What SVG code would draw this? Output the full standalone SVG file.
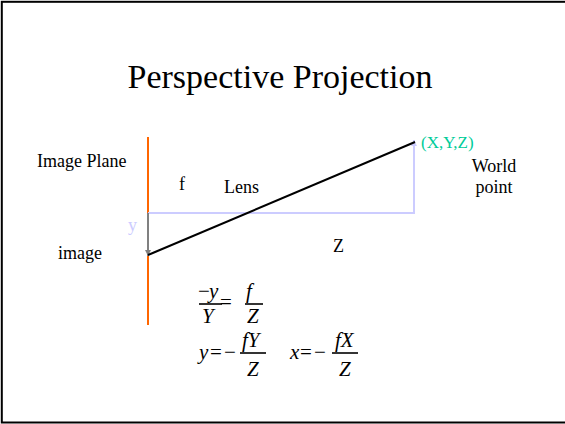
<svg xmlns="http://www.w3.org/2000/svg" width="565" height="424" viewBox="0 0 565 424">
<style>
text{font-family:"Liberation Serif","Times New Roman",serif;fill:#000}
.lbl{font-size:18px}
.eq{font-size:21px;font-style:italic}
.op{font-size:21px;font-style:normal}
.bar{stroke:#000;stroke-width:1.6}
</style>
<defs>
<marker id="ahGray" markerWidth="8" markerHeight="8" refX="6" refY="3" orient="auto" markerUnits="userSpaceOnUse">
<path d="M0,0 L6,3 L0,6 Z" fill="#808080"/>
</marker>
<marker id="ahLav" markerWidth="8" markerHeight="8" refX="6" refY="3" orient="auto" markerUnits="userSpaceOnUse">
<path d="M0,0 L6,3 L0,6 Z" fill="#CCCCFF"/>
</marker>
</defs>
<rect x="1.8" y="1.8" width="575" height="420.7" fill="#fff" stroke="#000" stroke-width="2"/>
<g id="title"><text x="280" y="88" font-size="34" text-anchor="middle">Perspective Projection</text></g>
<g id="image-plane">
<line x1="148" y1="137" x2="148" y2="325" stroke="#FF6600" stroke-width="2"/>
<text class="lbl" x="37" y="167">Image Plane</text>
</g>
<g id="connectors">
<polyline points="148,213 414,213 414,140" fill="none" stroke="#CCCCFF" stroke-width="2" marker-end="url(#ahLav)"/>
<line x1="148" y1="213" x2="148" y2="256" stroke="#808080" stroke-width="2" marker-end="url(#ahGray)"/>
<line x1="148" y1="255" x2="415" y2="142" stroke="#000" stroke-width="2"/>
</g>
<g id="labels">
<text class="lbl" x="179" y="190">f</text>
<text class="lbl" x="224" y="193">Lens</text>
<text class="lbl" x="333" y="252">Z</text>
<text class="lbl" x="128" y="231" style="fill:#CCCCFF">y</text>
<text class="lbl" x="58" y="259">image</text>
</g>
<g id="world-point">
<text x="421" y="148" font-size="17" style="fill:#00CC99">(X,Y,Z)</text>
<text class="lbl" x="494" y="172" text-anchor="middle">World</text>
<text class="lbl" x="494" y="193" text-anchor="middle">point</text>
</g>
<g id="equation1">
<text class="op" x="198" y="298">−</text>
<text class="eq" x="209" y="298">y</text>
<line class="bar" x1="199" y1="304" x2="222" y2="304"/>
<text class="eq" x="202" y="323">Y</text>
<text class="op" x="220" y="309">=</text>
<text class="eq" x="246" y="298">f</text>
<line class="bar" x1="245" y1="304" x2="263" y2="304"/>
<text class="eq" x="247" y="323">Z</text>
</g>
<g id="equation2">
<text class="eq" x="199" y="359">y</text>
<text class="op" x="210" y="359">=</text>
<text class="op" x="224" y="359">−</text>
<text class="eq" x="242" y="347">fY</text>
<line class="bar" x1="240" y1="353" x2="266" y2="353"/>
<text class="eq" x="247" y="376">Z</text>
<text class="eq" x="290" y="359">x</text>
<text class="op" x="300" y="359">=</text>
<text class="op" x="314" y="359">−</text>
<text class="eq" x="335" y="347">fX</text>
<line class="bar" x1="332" y1="353" x2="358" y2="353"/>
<text class="eq" x="339" y="376">Z</text>
</g>
</svg>
